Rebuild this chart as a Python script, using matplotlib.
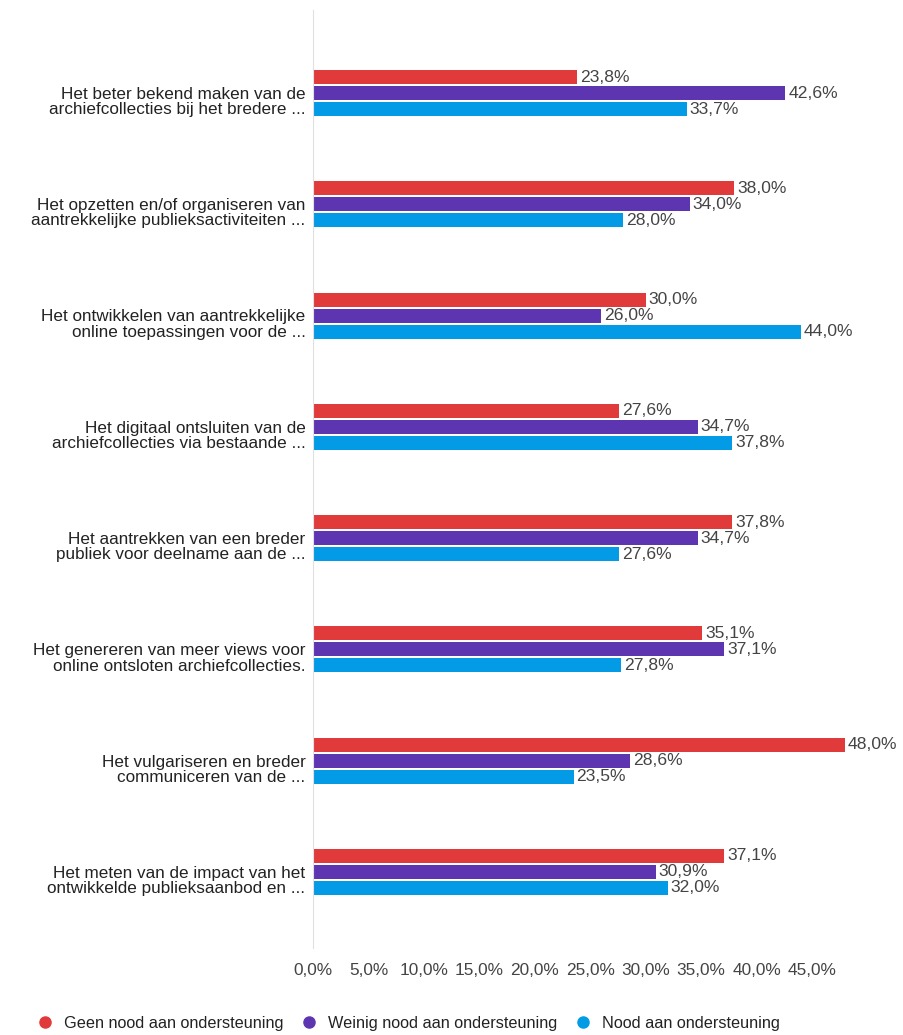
import matplotlib.pyplot as plt
import matplotlib.transforms as mtransforms
from matplotlib.lines import Line2D
import numpy as np

plt.rcParams['font.family'] = ['Liberation Sans', 'DejaVu Sans']

# Data
categories = [
    'Het beter bekend maken van de\narchiefcollecties bij het bredere ...',
    'Het opzetten en/of organiseren van\naantrekkelijke publieksactiviteiten ...',
    'Het ontwikkelen van aantrekkelijke\nonline toepassingen voor de ...',
    'Het digitaal ontsluiten van de\narchiefcollecties via bestaande ...',
    'Het aantrekken van een breder\npubliek voor deelname aan de ...',
    'Het genereren van meer views voor\nonline ontsloten archiefcollecties.',
    'Het vulgariseren en breder\ncommuniceren van de ...',
    'Het meten van de impact van het\nontwikkelde publieksaanbod en ...',
]
geen = [23.8, 38.0, 30.0, 27.6, 37.8, 35.1, 48.0, 37.1]
weinig = [42.6, 34.0, 26.0, 34.7, 34.7, 37.1, 28.6, 30.9]
nood = [33.7, 28.0, 44.0, 37.8, 27.6, 27.8, 23.5, 32.0]
series_names = ['Geen nood aan ondersteuning', 'Weinig nood aan ondersteuning',
                'Nood aan ondersteuning']
colors = ['#E03A3A', '#5E35B1', '#039BE5']
xticks = [0, 5, 10, 15, 20, 25, 30, 35, 40, 45]

fig = plt.figure(figsize=(9.04, 10.35), dpi=100)
ax_left = 313 / 904
px_per_pct = 499 / 45
xmax = 50
ax_w = px_per_pct * xmax / 904
ax = fig.add_axes([ax_left, 1 - 948 / 1035, ax_w, (948 - 10) / 1035])

y = np.arange(len(categories))
step = 16 / 111.3
h = 14 / 111.3
for i, (vals, c) in enumerate(zip([geen, weinig, nood], colors)):
    pos = y + (i - 1) * step
    ax.barh(pos, vals, height=h, color=c)
    for p, v in zip(pos, vals):
        ax.text(v + 0.25, p, f'{v:.1f}%'.replace('.', ','), va='center', ha='left',
                fontsize=12.6, color='#444444')

ax.set_ylim(7 + 0.683, -0.746)
ax.set_xlim(0, xmax)

# category labels, drawn a bit below the group centre like the original
lab_trans = mtransforms.blended_transform_factory(ax.transAxes, ax.transData) + \
    mtransforms.ScaledTranslation(-0.075, -0.09, fig.dpi_scale_trans)
for yi, cat in zip(y, categories):
    ax.text(0, yi, cat, transform=lab_trans, ha='right', va='center',
            multialignment='right', fontsize=12.3, color='#222222', linespacing=1.03)

ax.set_yticks([])
ax.set_xticks(xticks)
ax.set_xticklabels([f'{t:.1f}%'.replace('.', ',') for t in xticks], fontsize=12.4, color='#444444')
ax.tick_params(length=0)
ax.tick_params(axis='x', pad=11)
for s in ['top', 'right', 'bottom']:
    ax.spines[s].set_visible(False)
ax.spines['left'].set_color('#e0e0e0')

handles = [Line2D([], [], marker='o', ls='', color=c, markersize=8) for c in colors]
fig.legend(handles, series_names, loc='lower left', bbox_to_anchor=(0.02, -0.01),
           ncol=3, frameon=False, fontsize=11.7, handletextpad=0.4, columnspacing=0.85,
           handlelength=1.5, labelcolor='#222222')

fig.savefig('out.png', dpi=100, facecolor='white')
